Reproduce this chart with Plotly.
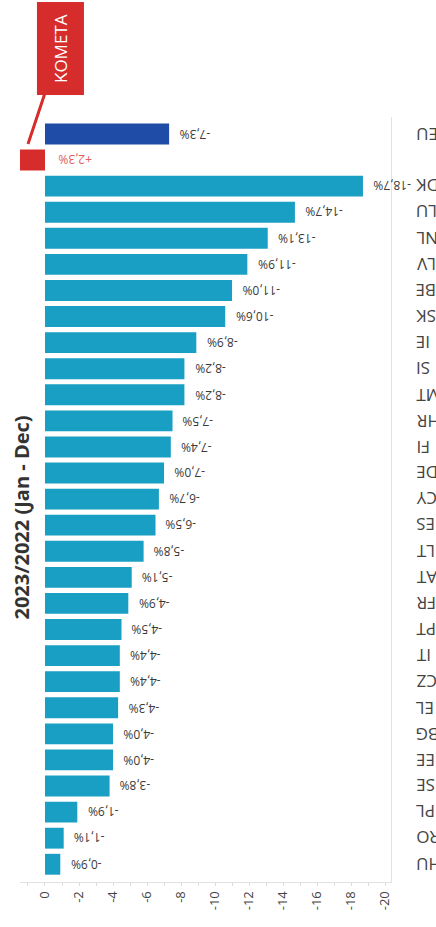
import plotly.graph_objects as go

categories = ["EU", "KOMETA", "DK", "LU", "NL", "LV", "BE", "SK", "IE", "SI", "MT", "HR",
              "FI", "DE", "CY", "ES", "LT", "AT", "FR", "PT", "IT", "CZ", "EL", "BG",
              "EE", "SE", "PL", "RO", "HU"]
values = [-7.3, 2.3, -18.7, -14.7, -13.1, -11.9, -11.0, -10.6, -8.9, -8.2, -8.2, -7.5,
          -7.4, -7.0, -6.7, -6.5, -5.8, -5.1, -4.9, -4.5, -4.4, -4.4, -4.3, -4.0,
          -4.0, -3.8, -1.9, -1.1, -0.9]
tick_values = [0, -2, -4, -6, -8, -10, -12, -14, -16, -18, -20]
tick_labels = ["0", "-2", "-4", "-6", "-8", "-10", "-12", "-14", "-16", "-18", "-20"]
title_text = "2023/2022 (Jan - Dec)"
callout_text = "KOMETA"

TEAL = "#1a9fc4"
NAVY = "#1e4ca6"
RED = "#d72c2c"
LABEL_RED = "#e06060"
FONT = "Open Sans"

def bar_color(c):
    if c == "EU":
        return NAVY
    if c == "KOMETA":
        return RED
    return TEAL

def fmt(v):
    s = f"{v:+.1f}%".replace(".", ",")
    return s

fig = go.Figure()
fig.add_trace(go.Bar(
    x=values, y=categories, orientation="h",
    marker=dict(color=[bar_color(c) for c in categories], line=dict(width=0)),
    width=0.8, hoverinfo="skip",
))

annotations = []
for c, v in zip(categories, values):
    if v < 0:
        annotations.append(dict(x=v, y=c, xref="x", yref="y", text=fmt(v), showarrow=False,
                                textangle=180, xanchor="left", yanchor="middle", xshift=8,
                                font=dict(family=FONT, size=12, color="#3a3a3a")))
    else:
        annotations.append(dict(x=0, y=c, xref="x", yref="y", text=fmt(v), showarrow=False,
                                textangle=180, xanchor="left", yanchor="middle", xshift=11,
                                font=dict(family=FONT, size=12, color=LABEL_RED)))
    if c != "KOMETA":
        annotations.append(dict(x=1, y=c, xref="paper", yref="y", text=c, showarrow=False,
                                textangle=180, xanchor="left", yanchor="middle", xshift=23,
                                font=dict(family=FONT, size=17, color="#444")))

# vertical title
annotations.append(dict(x=0, y=0.5, xref="paper", yref="paper", text=f"<b>{title_text}</b>",
                        showarrow=False, textangle=-90, xanchor="center", yanchor="middle",
                        xshift=1, yshift=-18,
                        font=dict(family=FONT, size=20, color="#333")))

# KOMETA callout
annotations.append(dict(x=1.0, y="KOMETA", xref="x", yref="y", text=callout_text,
                        showarrow=True, arrowhead=0, arrowwidth=3, arrowcolor=RED,
                        ax=32, ay=-96, yshift=16, textangle=-90,
                        bgcolor=RED, bordercolor=RED, borderpad=12, borderwidth=0,
                        font=dict(family=FONT, size=17, color="white")))

fig.update_layout(
    width=436, height=927,
    margin=dict(l=20, r=45, t=117, b=45),
    paper_bgcolor="white", plot_bgcolor="white",
    showlegend=False, bargap=0.2,
    annotations=annotations,
    xaxis=dict(range=[1.47, -20.35], tickvals=tick_values, ticktext=tick_labels,
               tickangle=-90, showgrid=False, zeroline=False,
               showline=True, linecolor="#e2e2e2", linewidth=1,
               ticks="outside", ticklen=3, tickcolor="#dddddd",
               minor=dict(dtick=1, ticks="outside", ticklen=3, tickcolor="#dddddd"),
               tickfont=dict(family=FONT, size=13, color="#444")),
    yaxis=dict(categoryorder="array", categoryarray=categories,
               range=[28.68, -0.65], side="right", showticklabels=False,
               showgrid=False, zeroline=False, showline=True,
               linecolor="#e2e2e2", linewidth=1, ticks=""),
)

fig.write_html("out.html", config={"displayModeBar": False},
               post_script="document.body.style.margin='0';document.body.style.overflow='hidden';")
